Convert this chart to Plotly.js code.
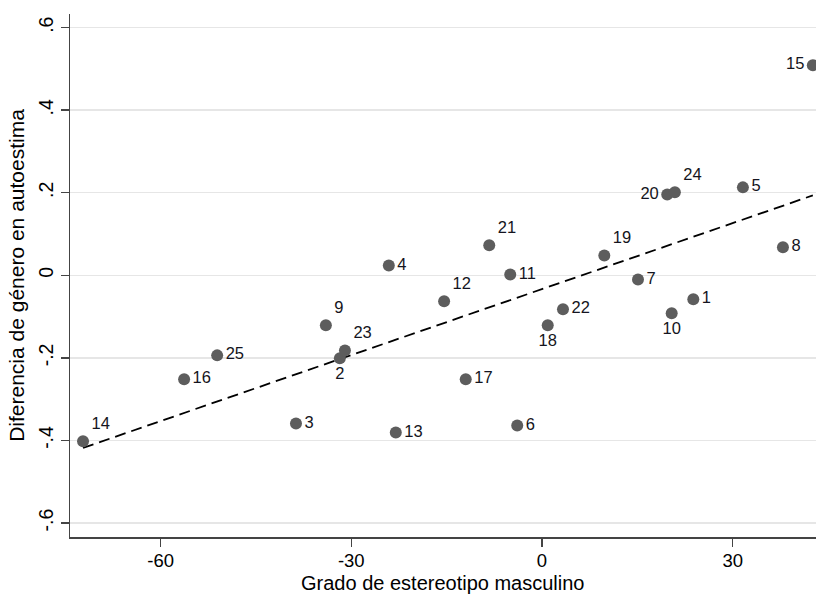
<!DOCTYPE html>
<html>
<head>
<meta charset="utf-8">
<script src="https://cdn.plot.ly/plotly-3.0.1.min.js"></script>
<style>html,body{margin:0;padding:0;background:#fff;}#chart{width:816px;height:594px;}</style>
</head>
<body>
<div id="chart"></div>
<script>
var ids = ['1','2','3','4','5','6','7','8','9','10','11','12','13','14','15','16','17','18','19','20','21','22','23','24','25'];
var stereotype = [23.8,-31.8,-38.7,-24.1,31.6,-3.9,15.1,37.9,-34.0,20.4,-5.0,-15.4,-23.0,-72.2,42.6,-56.3,-12.0,0.9,9.8,19.7,-8.3,3.3,-31.0,20.9,-51.1];
var esteemGap = [-0.058,-0.201,-0.359,0.024,0.213,-0.364,-0.010,0.068,-0.121,-0.092,0.002,-0.063,-0.381,-0.402,0.509,-0.252,-0.252,-0.121,0.048,0.196,0.073,-0.082,-0.182,0.201,-0.194];
var labelPos = ['middle right','bottom center','middle right','middle right','middle right','middle right','middle right','middle right','top right','bottom center','middle right','top right','middle right','top right','middle left','middle right','middle right','bottom center','top right','middle left','top right','middle right','top right','top right','middle right'];
var yTickVals = [-0.6,-0.4,-0.2,0,0.2,0.4,0.6];
var yTickText = ['-.6','-.4','-.2','0','.2','.4','.6'];
var xTickVals = [-60,-30,0,30];
var xTickText = ['-60','-30','0','30'];
var xTitle = 'Grado de estereotipo masculino';
var yTitle = 'Diferencia de género en autoestima';

// linear fit (OLS) of the data
var n = stereotype.length, mx = 0, my = 0;
for (var i = 0; i < n; i++) { mx += stereotype[i]; my += esteemGap[i]; }
mx /= n; my /= n;
var sxy = 0, sxx = 0;
for (var i = 0; i < n; i++) { sxy += (stereotype[i]-mx)*(esteemGap[i]-my); sxx += (stereotype[i]-mx)*(stereotype[i]-mx); }
var b = sxy/sxx, a = my - b*mx;
var xmin = Math.min.apply(null, stereotype), xmax = Math.max.apply(null, stereotype);
var fitX = [xmin, xmax], fitY = [a + b*xmin, a + b*xmax];

var font = 'Liberation Sans, Arial, sans-serif';
var traces = [
  {x: fitX, y: fitY, mode: 'lines', type: 'scatter', line: {color: '#000', width: 1.8, dash: '11px,6px'}, hoverinfo: 'skip', cliponaxis: false},
  {x: stereotype, y: esteemGap, text: ids, mode: 'markers+text', type: 'scatter', textposition: labelPos,
   marker: {color: '#5d5d5d', size: 12}, textfont: {family: font, size: 16.5, color: '#141420'}, cliponaxis: false}
];
var layout = {
  width: 816, height: 594,
  margin: {l: 70, r: 0, t: 14, b: 57},
  paper_bgcolor: '#fff', plot_bgcolor: '#fff',
  showlegend: false,
  font: {family: font, color: '#000'},
  xaxis: {range: [-74.25, 43.1], tickvals: xTickVals, ticktext: xTickText, ticks: 'outside', ticklen: 8, tickwidth: 1.5, tickcolor: '#444',
    showline: true, linecolor: '#444', linewidth: 1.5, showgrid: false, zeroline: false, ticklabelstandoff: -2,
    tickfont: {size: 18.5, family: font}},
  yaxis: {range: [-0.634, 0.633], tickvals: yTickVals, ticktext: yTickText, tickangle: -90, ticks: 'outside', ticklen: 8, tickwidth: 1.5, tickcolor: '#444',
    showline: true, linecolor: '#444', linewidth: 1.5, showgrid: true, gridcolor: '#e6e6e6', gridwidth: 1.5, zeroline: false,
    tickfont: {size: 19.5, family: font}, title: {text: yTitle, font: {size: 21, family: font}, standoff: 4}},
  annotations: [
    {text: xTitle, xref: 'paper', yref: 'paper', x: 0.5, y: -0.087, xanchor: 'center', yanchor: 'middle', showarrow: false,
     font: {size: 20, family: font, color: '#000'}}
  ]
};
Plotly.newPlot('chart', traces, layout, {displayModeBar: false, staticPlot: true});
</script>
</body>
</html>
